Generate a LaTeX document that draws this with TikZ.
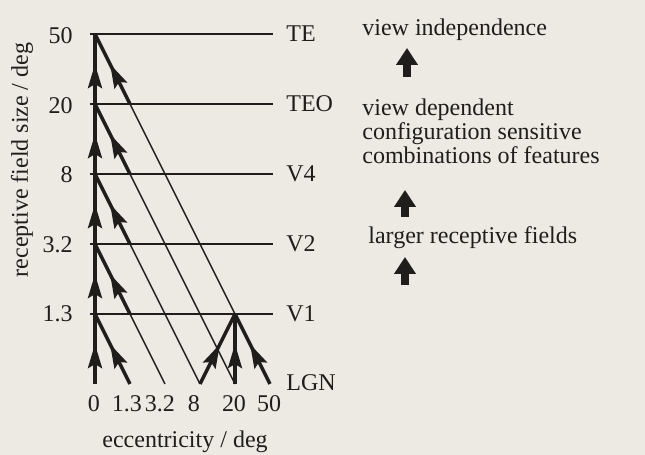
\documentclass[tikz,border=0pt]{standalone}
\usepackage{fontspec}
\setmainfont{Liberation Serif}
\usetikzlibrary{arrows.meta,decorations.markings}
\definecolor{bg}{RGB}{236,234,226}
\definecolor{ink}{RGB}{32,30,28}
\tikzset{
  levelline/.style={ink, line width=0.9pt},
  thinline/.style={ink, line width=0.7pt},
  thickline/.style={ink, line width=1.7pt, postaction={decorate},
    decoration={markings, mark=at position 0.57 with {\arrow{Stealth[length=12pt,width=7pt,inset=2pt]}}}},
  lab/.style={font=\fontsize{12}{12}\selectfont, text=ink, inner sep=0pt},
  bigarrow/.style={ink, line width=3.8pt, -{Triangle[length=8.5pt,width=10.5pt]}},
}
\begin{document}
\begin{tikzpicture}[x=0.5pt,y=-0.5pt]
\fill[bg] (0,0) rectangle (645,455);
\useasboundingbox (0,0) rectangle (645,455);

% axis points
\coordinate (a0) at (95,384);
\coordinate (a1) at (95,314);
\coordinate (a2) at (95,244);
\coordinate (a3) at (95,174);
\coordinate (a4) at (95,104);
\coordinate (a5) at (95,34);
% bottom points
\coordinate (b1) at (130,384);
\coordinate (b2) at (165,384);
\coordinate (b3) at (200,384);
\coordinate (b4) at (235,384);
\coordinate (b5) at (270,384);
% crossings
\coordinate (c2) at (130,314);
\coordinate (c3) at (130,244);
\coordinate (c4) at (130,174);
\coordinate (c5) at (130,104);
\coordinate (p) at (235,314);

% level lines
\foreach \k/\y in {1/314,2/244,3/174,4/104,5/34}{
  \coordinate (s\k) at (90,\y);
  \coordinate (e\k) at (273,\y);
  \draw[levelline] (s\k) -- (e\k);
}

% thin extensions
\draw[thinline] (b2) -- (c2);
\draw[thinline] (b3) -- (c3);
\draw[thinline] (b4) -- (c4);
\draw[thinline] (p) -- (c5);

% vertical axis
\draw[thickline] (a0) -- (a1);
\draw[thickline] (a1) -- (a2);
\draw[thickline] (a2) -- (a3);
\draw[thickline] (a3) -- (a4);
\draw[thickline] (a4) -- (a5);
% diagonals
\draw[thickline] (b1) -- (a1);
\draw[thickline] (c2) -- (a2);
\draw[thickline] (c3) -- (a3);
\draw[thickline] (c4) -- (a4);
\draw[thickline] (c5) -- (a5);
% V1 peak
\draw[thickline] (b3) -- (p);
\draw[thickline] (b4) -- (p);
\draw[thickline] (b5) -- (p);

% y tick labels
\node[lab, anchor=east] (t50) at (73,36) {50};
\node[lab, anchor=east] (t20) at (73,106) {20};
\node[lab, anchor=east] (t8) at (73,175) {8};
\node[lab, anchor=east] (t32) at (73,245) {3.2};
\node[lab, anchor=east] (t13) at (73,314) {1.3};
\node[lab, rotate=90] (ytitle) at (22,160) {receptive field size / deg};

% level labels
\node[lab, anchor=west] (nTE) at (286,34) {TE};
\node[lab, anchor=west] (nTEO) at (286,104) {TEO};
\node[lab, anchor=west] (nV4) at (286,174) {V4};
\node[lab, anchor=west] (nV2) at (286,244) {V2};
\node[lab, anchor=west] (nV1) at (286,314) {V1};
\node[lab, anchor=west] (nLGN) at (286,383) {LGN};

% x tick labels
\node[lab, anchor=base] (x0) at (94,412) {0};
\node[lab, anchor=base] (x13) at (127,412) {1.3};
\node[lab, anchor=base] (x32) at (160,412) {3.2};
\node[lab, anchor=base] (x8) at (194,412) {8};
\node[lab, anchor=base] (x20) at (234,412) {20};
\node[lab, anchor=base] (x50) at (269,412) {50};
\node[lab, anchor=base] (xtitle) at (185,448) {eccentricity / deg};

% right-hand text
\node[lab, anchor=base west] (vi) at (362,35) {view independence};
\node[lab, anchor=base west] (vd1) at (362,116) {view dependent};
\node[lab, anchor=base west] (vd2) at (362,140) {configuration sensitive};
\node[lab, anchor=base west] (vd3) at (362,163) {combinations of features};
\node[lab, anchor=base west] (lrf) at (368,243) {larger receptive fields};

\coordinate (A1s) at (407,77);
\coordinate (A1e) at (407,48);
\coordinate (A2s) at (405,217);
\coordinate (A2e) at (405,190);
\coordinate (A3s) at (405,285);
\coordinate (A3e) at (405,257);
\draw[bigarrow] (A1s) -- (A1e);
\draw[bigarrow] (A2s) -- (A2e);
\draw[bigarrow] (A3s) -- (A3e);
\end{tikzpicture}
\end{document}
